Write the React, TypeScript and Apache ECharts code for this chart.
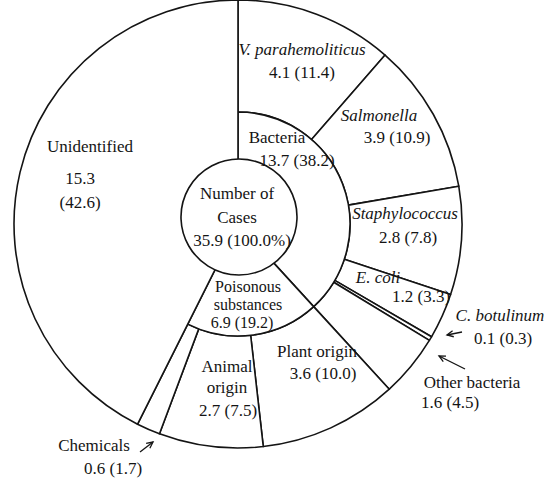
import React, { useEffect, useRef } from "react";
import * as echarts from "echarts";

// ---- data ----
const totalCases = 35.9;
const totalPct = 100.0;
const centerName = "Number of\nCases";

const groupNames = ["Bacteria", "Poisonous\nsubstances", "Unidentified"];
const groupValues = [13.7, 6.9, 15.3];
const groupPcts = [38.2, 19.2, 42.6];

const subNames = [
  "V. parahemoliticus",
  "Salmonella",
  "Staphylococcus",
  "E. coli",
  "C. botulinum",
  "Other bacteria",
  "Plant origin",
  "Animal\norigin",
  "Chemicals",
];
const subValues = [4.1, 3.9, 2.8, 1.2, 0.1, 1.6, 3.6, 2.7, 0.6];
const subPcts = [11.4, 10.9, 7.8, 3.3, 0.3, 4.5, 10.0, 7.5, 1.7];
const subItalic = [true, true, true, true, true, false, false, false, false];

// ---- layout (text placement, px) ----
const centerLinePos: [number, number][] = [[237, 193], [237, 217], [242, 240]];
const groupLinePos: [number, number][][] = [
  [[277, 137], [297, 160]],
  [[248, 286], [248, 304], [242, 322]],
  [[90, 146], [80, 178], [80, 202]],
];
const subLinePos: [number, number][][] = [
  [[302, 49], [302, 72]],
  [[379, 115], [397, 137]],
  [[405, 213], [408, 237]],
  [[378, 277], [421, 296]],
  [[500, 315], [503, 338]],
  [[472, 382], [450, 402]],
  [[317, 351], [323, 373]],
  [[227, 366], [227, 387], [228, 410]],
  [[94, 445], [113, 468]],
];
// arrows: [fromX, fromY, toX, toY]
const arrows: [number, number, number, number][] = [
  [462, 332, 447, 335],
  [465, 369, 439, 356],
  [140, 452, 153, 442],
];

const FONT = "Liberation Serif";
const INK = "#141414";
const CX = 238;
const CY = 224;
const R_OUT = 224;
const R_MID = 112;
const R_IN = 48;

const fmt = (v: number, p: number) => `${v.toFixed(1)} (${p.toFixed(1)})`;

function textEl(str: string, pos: [number, number], italic: boolean, size = 17) {
  return {
    type: "text",
    x: pos[0],
    y: pos[1],
    z: 100,
    silent: true,
    style: {
      text: str,
      fill: INK,
      fontFamily: FONT,
      fontSize: size,
      fontStyle: italic ? "italic" : "normal",
      align: "center",
      verticalAlign: "middle",
      textAlign: "center",
      textVerticalAlign: "middle",
    },
  };
}

function arrowEls(a: [number, number, number, number]) {
  const [x1, y1, x2, y2] = a;
  const ang = Math.atan2(y2 - y1, x2 - x1);
  const L = 7;
  const spread = 0.45;
  const h1: [number, number] = [x2 - L * Math.cos(ang - spread), y2 - L * Math.sin(ang - spread)];
  const h2: [number, number] = [x2 - L * Math.cos(ang + spread), y2 - L * Math.sin(ang + spread)];
  return [
    {
      type: "line",
      z: 100,
      silent: true,
      shape: { x1, y1, x2, y2 },
      style: { stroke: INK, lineWidth: 1.3 },
    },
    {
      type: "polyline",
      z: 100,
      silent: true,
      shape: { points: [h1, [x2, y2], h2] },
      style: { stroke: INK, lineWidth: 1.3, fill: null },
    },
  ];
}

const visibleItem = { color: "#ffffff", borderColor: INK, borderWidth: 1.6 };
const hiddenItem = { color: "rgba(0,0,0,0)", borderWidth: 0 };

export default function App() {
  const ref = useRef<HTMLDivElement>(null);

  useEffect(() => {
    if (!ref.current) return;
    const chart = echarts.init(ref.current, null, { renderer: "svg" });

    const graphics: any[] = [];
    // center label
    const centerLines = [...centerName.split("\n"), `${totalCases.toFixed(1)} (${totalPct.toFixed(1)}%)`];
    centerLines.forEach((s, i) => graphics.push(textEl(s, centerLinePos[i], false)));
    // group labels
    groupNames.forEach((n, gi) => {
      const lines = [...n.split("\n")];
      if (gi === 2) {
        lines.push(groupValues[gi].toFixed(1), `(${groupPcts[gi].toFixed(1)})`);
      } else {
        lines.push(fmt(groupValues[gi], groupPcts[gi]));
      }
      const size = gi === 1 ? 16 : 17;
      lines.forEach((s, i) => graphics.push(textEl(s, groupLinePos[gi][i], false, size)));
    });
    // sub labels
    subNames.forEach((n, si) => {
      const nameLines = n.split("\n");
      nameLines.forEach((s, i) => graphics.push(textEl(s, subLinePos[si][i], subItalic[si])));
      graphics.push(textEl(fmt(subValues[si], subPcts[si]), subLinePos[si][nameLines.length], false));
    });
    arrows.forEach((a) => graphics.push(...arrowEls(a)));

    const common = {
      type: "pie",
      center: [CX, CY],
      startAngle: 90,
      clockwise: true,
      silent: true,
      label: { show: false },
      labelLine: { show: false },
      emphasis: { disabled: true },
      avoidLabelOverlap: false,
    };

    const knownPct = groupPcts[0] + groupPcts[1];

    const outerData = [
      ...subNames.map((n, i) => ({ name: n, value: subPcts[i], itemStyle: visibleItem })),
      { name: "Unidentified (placeholder)", value: groupPcts[2], itemStyle: hiddenItem },
    ];
    const middleData = [
      { name: groupNames[0], value: groupPcts[0], itemStyle: visibleItem },
      { name: groupNames[1], value: groupPcts[1], itemStyle: visibleItem },
      { name: "Unidentified (placeholder)", value: groupPcts[2], itemStyle: hiddenItem },
    ];
    const unidentData = [
      { name: "Identified (placeholder)", value: knownPct, itemStyle: hiddenItem },
      { name: groupNames[2], value: groupPcts[2], itemStyle: visibleItem },
    ];

    chart.setOption({
      animation: false,
      backgroundColor: "#ffffff",
      series: [
        { ...common, name: "outer", radius: [R_MID, R_OUT], data: outerData },
        { ...common, name: "middle", radius: [R_IN, R_MID], data: middleData },
        { ...common, name: "unidentified", radius: [R_IN, R_OUT], data: unidentData },
        {
          ...common,
          name: "center",
          center: [239, 217],
          radius: [0, 58],
          data: [{ name: centerName, value: totalCases, itemStyle: visibleItem }],
        },
      ],
      graphic: graphics,
    });

    return () => chart.dispose();
  }, []);

  return (
    <div
      ref={ref}
      style={{ position: "fixed", left: 0, top: 0, width: 558, height: 480, background: "#fff" }}
    />
  );
}
